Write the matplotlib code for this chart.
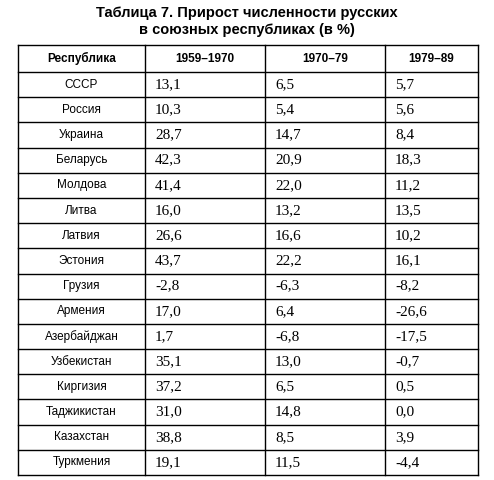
import matplotlib
matplotlib.use("Agg")
from matplotlib import pyplot as plt

title_lines = ["Таблица 7. Прирост численности русских", "в союзных республиках (в %)"]
headers = ["Республика", "1959–1970", "1970–79", "1979–89"]
republics = ["СССР", "Россия", "Украина", "Беларусь", "Молдова", "Литва", "Латвия",
             "Эстония", "Грузия", "Армения", "Азербайджан", "Узбекистан", "Киргизия",
             "Таджикистан", "Казахстан", "Туркмения"]
v1959 = ["13,1", "10,3", "28,7", "42,3", "41,4", "16,0", "26,6", "43,7", "-2,8", "17,0",
         "1,7", "35,1", "37,2", "31,0", "38,8", "19,1"]
v1970 = ["6,5", "5,4", "14,7", "20,9", "22,0", "13,2", "16,6", "22,2", "-6,3", "6,4",
         "-6,8", "13,0", "6,5", "14,8", "8,5", "11,5"]
v1979 = ["5,7", "5,6", "8,4", "18,3", "11,2", "13,5", "10,2", "16,1", "-8,2", "-26,6",
         "-17,5", "-0,7", "0,5", "0,0", "3,9", "-4,4"]

fig = plt.figure(figsize=(4.94, 4.80), dpi=100)
ax = fig.add_axes([0, 0, 1, 1])
ax.set_xlim(0, 494)
ax.set_ylim(480, 0)
ax.axis("off")

sans = "Liberation Sans"
serif = "Liberation Serif"

for i, line in enumerate(title_lines):
    ax.text(247, 13 + i * 17, line, ha="center", va="center", fontsize=10.5,
            fontweight="bold", family=sans, fontstretch="condensed")

col_x = [18, 145, 265, 385, 478]
top, head_bot, bottom = 45, 72, 475
n = len(republics)
row_h = (bottom - head_bot) / n

# grid
for x in col_x:
    ax.plot([x, x], [top, bottom], color="black", lw=1)
ax.plot([col_x[0], col_x[-1]], [top, top], color="black", lw=1)
for r in range(n + 1):
    y = head_bot + r * row_h
    ax.plot([col_x[0], col_x[-1]], [y, y], color="black", lw=1)

hy = (top + head_bot) / 2
for c, h in enumerate(headers):
    ax.text((col_x[c] + col_x[c + 1]) / 2, hy, h, ha="center", va="center",
            fontsize=8.5, fontweight="bold", family=sans)

for r in range(n):
    y = head_bot + (r + 0.5) * row_h
    ax.text((col_x[0] + col_x[1]) / 2, y, republics[r], ha="center", va="center",
            fontsize=8.5, family=sans)
    for c, vals in enumerate([v1959, v1970, v1979]):
        ax.text(col_x[c + 1] + 10, y, vals[r], ha="left", va="center",
                fontsize=11, family=serif)

fig.savefig("out.png", dpi=100)
